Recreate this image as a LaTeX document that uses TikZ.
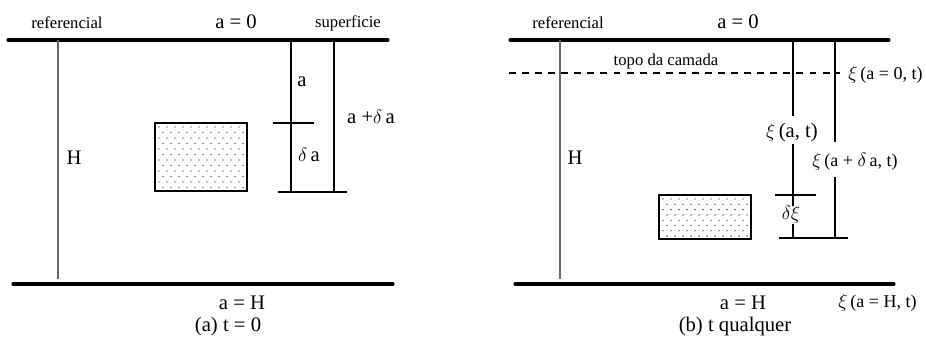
\documentclass[tikz,border=0pt]{standalone}
\usepackage{fontspec}
\setmainfont{Liberation Serif}
\usetikzlibrary{positioning}

\begin{document}
\begin{tikzpicture}[x=0.75pt, y=-0.75pt,
    every node/.style={font=\fontsize{15.5}{18}\selectfont, inner sep=1pt},
    small/.style={font=\fontsize{12.5}{14}\selectfont},
    xilab/.style={font=\fontsize{13.5}{16}\selectfont, anchor=west, inner sep=0pt},
    nivel/.style={line width=2.3pt, line cap=round},
    regua/.style={line width=1.1pt, black!60},
    cota/.style={line width=0.8pt},
    bloco/.style={draw, line width=0.9pt}]
   \useasboundingbox (0,0) rectangle (926,347);

   % (a) t = 0
   \coordinate (a_top) at (58,40);
   \coordinate (a_bot) at (58,279);
   \draw[nivel] (8,40) -- (388,40);
   \draw[nivel] (13,284) -- (393,284);
   \draw[regua] (a_top) -- (a_bot);
   \node[small] (ref_a) at (67,23) {referencial};
   \node (zero_a) at (236,22) {a = 0};
   \node[small] (sup_a) at (348,23) {superficie};
   \node (H_a) at (74,158) {H};

   % coluna a e a + delta a
   \draw[cota] (291,40) -- (291,192);
   \draw[cota] (334,42) -- (334,192);
   \draw[cota] (273,123) -- (314,123);
   \draw[cota] (278,192) -- (347,192);
   \node (lab_a) at (302,82) {a};
   \node (lab_da) at (309,155) {$\delta$\,a};
   \node (lab_ada) at (371,117) {a +$\delta$\,a};

   % bloco pontilhado
   \draw[bloco] (155,123) rectangle (247,191);
   \foreach \r in {0,...,11} {
     \pgfmathsetmacro{\dx}{mod(\r,2)*4}
     \foreach \c in {0,...,10}
       \fill (159+\dx+\c*8,127+\r*5.5) circle (0.65);
   }

   \node (H_a_bot) at (242,303) {a = H};
   \node (cap_a) at (228,327) {(a) t = 0};

   % (b) t qualquer
   \coordinate (b_top) at (560,40);
   \coordinate (b_bot) at (560,279);
   \draw[nivel] (510,40) -- (889,40);
   \draw[nivel] (515,284) -- (894,284);
   \draw[line width=1.5pt, dash pattern=on 5.2pt off 4.6pt] (509,73) -- (840,73);
   \draw[regua] (b_top) -- (b_bot);
   \node[small] (ref_b) at (568,23) {referencial};
   \node (zero_b) at (738,22) {a = 0};
   \node[small] (topo) at (666,61) {topo da camada};
   \node (H_b) at (575,158) {H};

   % coluna xi
   \node[xilab] (xi_0) at (848,75) {$\xi$\,(a = 0, t)};
   \node (xi_a) at (792,133) {$\xi$\,(a, t)};
   \node[xilab] (xi_ada) at (812,162) {$\xi$\,(a + $\delta$\,a, t)};
   \draw[cota] (793,40) -- (793,116);
   \draw[cota] (793,144) -- (793,238);
   \draw[cota] (835,42) -- (835,142);
   \draw[cota] (835,177) -- (835,238);
   \draw[cota] (775,195) -- (816,195);
   \draw[cota] (779,238) -- (848,238);
   \node[fill=white, inner sep=0.5pt] (dxi) at (791,215) {$\delta\xi$};

   % bloco pontilhado
   \draw[bloco] (659,195) rectangle (751,239);
   \foreach \r in {0,...,7} {
     \pgfmathsetmacro{\dx}{mod(\r,2)*4}
     \foreach \c in {0,...,10}
       \fill (663+\dx+\c*8,199+\r*5.3) circle (0.65);
   }

   \node (H_b_bot) at (743,303) {a = H};
   \node[xilab] (xi_H) at (838,303) {$\xi$\,(a = H, t)};
   \node (cap_b) at (735,327) {(b) t qualquer};
\end{tikzpicture}
\end{document}
